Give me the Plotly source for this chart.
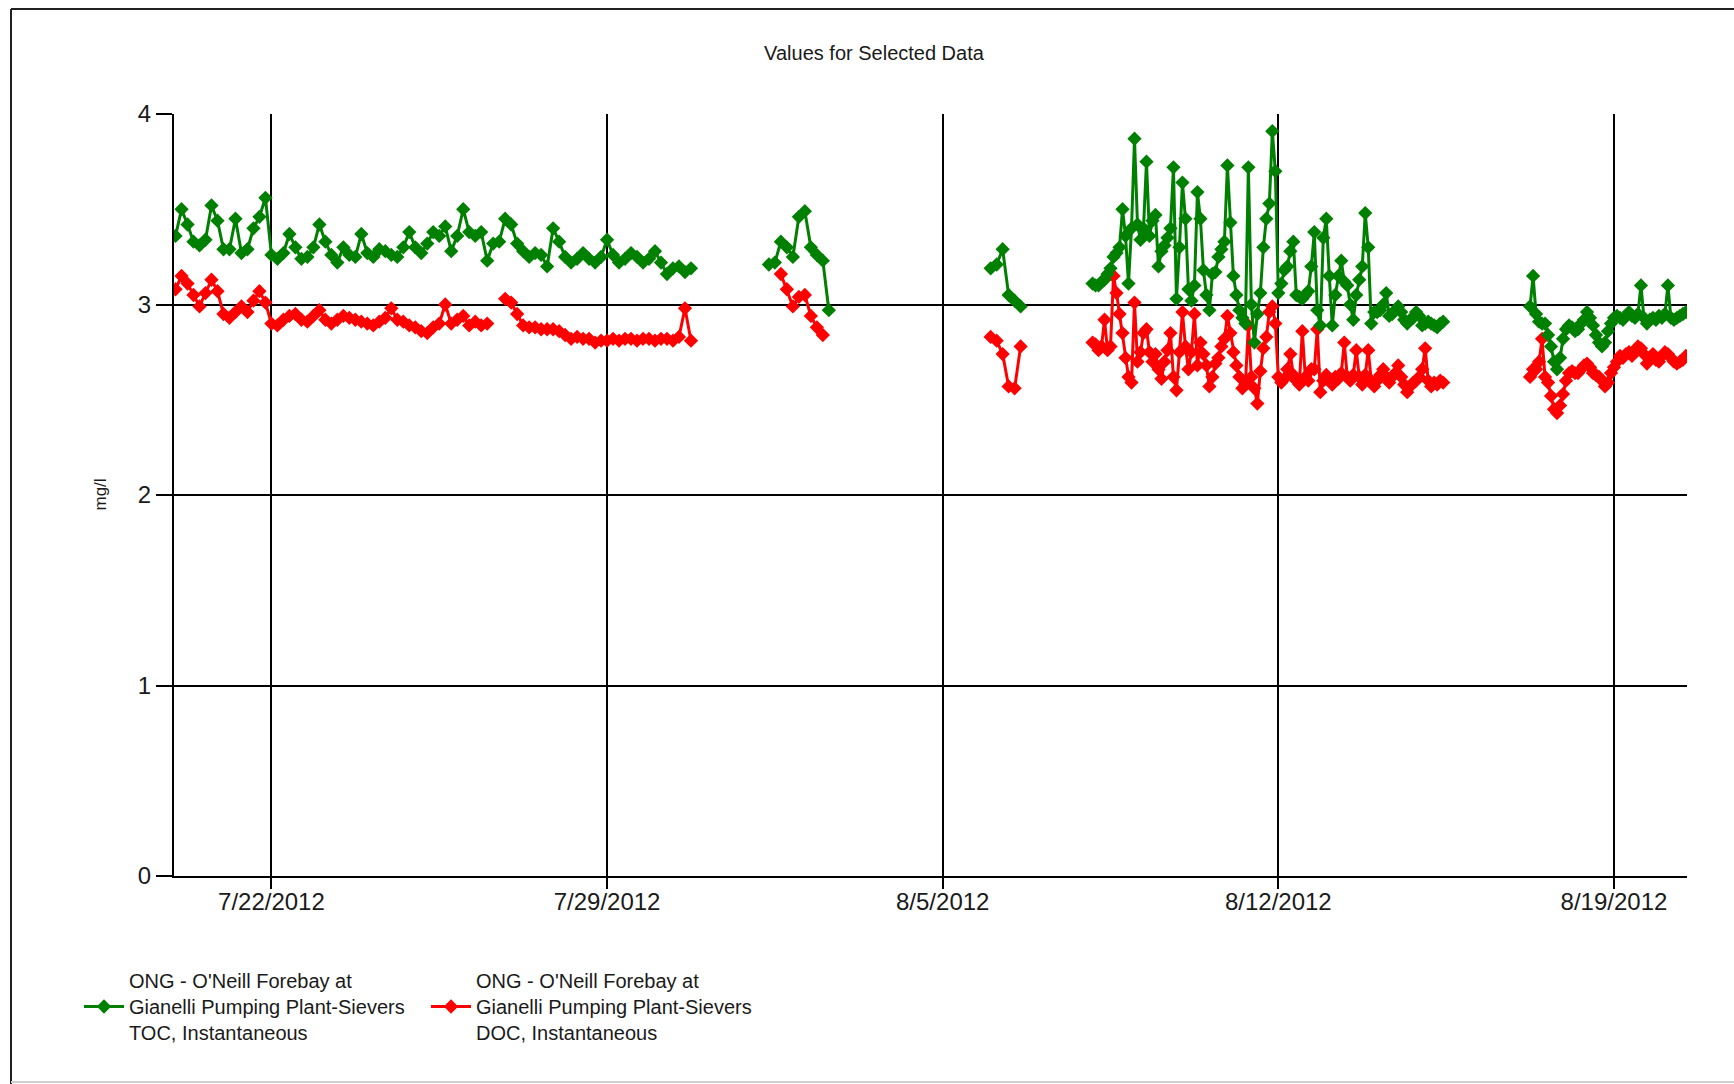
import pandas as pd
import plotly.graph_objects as go

# ---------------- data ----------------
SERIES_NAMES = [
    "ONG - O'Neill Forebay at<br>Gianelli Pumping Plant-Sievers<br>TOC, Instantaneous",
    "ONG - O'Neill Forebay at<br>Gianelli Pumping Plant-Sievers<br>DOC, Instantaneous",
]

# TOC (green) segments: start time, step (hours), values (mg/l)
toc_1_start, toc_1_step = "2012-07-20 00:00", 3
toc_1 = [3.36, 3.50, 3.42, 3.33, 3.31, 3.34, 3.52, 3.44,
         3.29, 3.29, 3.45, 3.27, 3.29, 3.40, 3.46, 3.56,
         3.26, 3.24, 3.27, 3.37, 3.30, 3.24, 3.25, 3.30,
         3.42, 3.33, 3.26, 3.22, 3.30, 3.26, 3.25, 3.37,
         3.27, 3.25, 3.29, 3.28, 3.26, 3.25, 3.30, 3.38,
         3.30, 3.27, 3.32, 3.38, 3.36, 3.41, 3.28, 3.36,
         3.50, 3.38, 3.36, 3.38, 3.23, 3.32, 3.33, 3.45,
         3.42, 3.32, 3.28, 3.25, 3.27, 3.26, 3.20, 3.40,
         3.33, 3.25, 3.22, 3.24, 3.27, 3.24, 3.22, 3.25,
         3.34, 3.26, 3.22, 3.24, 3.27, 3.25, 3.22, 3.24,
         3.28, 3.22, 3.16, 3.19, 3.20, 3.17, 3.19]
toc_2_start, toc_2_step = "2012-08-01 09:00", 3
toc_2 = [3.21, 3.22, 3.33, 3.30, 3.25, 3.46, 3.49, 3.30, 3.26, 3.23, 2.97]
toc_3_start, toc_3_step = "2012-08-06 00:00", 3
toc_3 = [3.19, 3.21, 3.29, 3.05, 3.02, 2.99]
toc_4_start, toc_4_step = "2012-08-08 03:00", 1.5
toc_4 = [3.11, 3.10, 3.10, 3.12, 3.13, 3.16, 3.19, 3.25, 3.27, 3.30,
         3.50, 3.36, 3.11, 3.40, 3.87, 3.42, 3.34, 3.40, 3.75, 3.36,
         3.44, 3.47, 3.20, 3.28, 3.31, 3.35, 3.40, 3.72, 3.03, 3.30,
         3.64, 3.45, 3.08, 3.02, 3.10, 3.59, 3.45, 3.18, 3.05, 2.97,
         3.16, 3.17, 3.25, 3.29, 3.33, 3.73, 3.43, 3.15, 3.05, 2.97,
         2.93, 2.90, 3.72, 3.00, 2.80, 2.95, 3.06, 3.30, 3.45, 3.53,
         3.91, 3.70, 3.06, 3.11, 3.18, 3.20, 3.28, 3.33, 3.05, 3.04,
         3.03, 3.05, 3.07, 3.20, 3.38, 2.97, 2.89, 3.35, 3.45, 3.15,
         2.89, 3.05, 3.15, 3.23, 3.12, 3.10, 3.00, 2.92, 3.05, 3.13,
         3.20, 3.48, 3.30, 2.90, 2.96, 2.96, 2.97, 3.00, 3.06, 2.94,
         2.95, 2.97, 2.99, 2.96, 2.92, 2.90, 2.92, 2.93, 2.96, 2.94,
         2.89, 2.90, 2.91, 2.90, 2.89, 2.88, 2.90, 2.91]
toc_5_start, toc_5_step = "2012-08-17 06:00", 1.5
toc_5 = [2.99, 3.15, 2.95, 2.91, 2.90, 2.90, 2.84, 2.78, 2.70, 2.66,
         2.72, 2.82, 2.87, 2.89, 2.88, 2.86, 2.87, 2.90, 2.92, 2.96,
         2.93, 2.89, 2.84, 2.80, 2.78, 2.80, 2.86, 2.90, 2.93, 2.94,
         2.93, 2.92, 2.94, 2.96, 2.94, 2.93, 2.95, 3.10, 2.93, 2.90,
         2.92, 2.93, 2.92, 2.94, 2.93, 2.95, 3.10, 2.93, 2.92, 2.93,
         2.94, 2.95, 2.96]

# DOC (red) segments
doc_1a_start, doc_1a_step = "2012-07-20 00:00", 3
doc_1a = [3.08, 3.15, 3.11, 3.05, 2.99, 3.06, 3.13, 3.07,
          2.95, 2.93, 2.96, 2.99, 2.96, 3.02, 3.07, 3.01,
          2.90, 2.89, 2.92, 2.94, 2.95, 2.92, 2.91, 2.94,
          2.97, 2.92, 2.90, 2.92, 2.94, 2.93, 2.92, 2.91,
          2.90, 2.89, 2.91, 2.93, 2.98, 2.92, 2.91, 2.89,
          2.88, 2.86, 2.85, 2.88, 2.90, 3.00, 2.90, 2.92,
          2.94, 2.89, 2.91, 2.89, 2.90]
doc_1b_start, doc_1b_step = "2012-07-26 21:00", 3
doc_1b = [3.03, 3.01, 2.95, 2.89, 2.88, 2.88, 2.87, 2.87, 2.87,
          2.86, 2.84, 2.82, 2.83, 2.82, 2.82, 2.80, 2.81,
          2.81, 2.82, 2.81, 2.82, 2.82, 2.81, 2.82, 2.82,
          2.81, 2.82, 2.82, 2.81, 2.83, 2.98, 2.81]
doc_2_start, doc_2_step = "2012-08-01 15:00", 3
doc_2 = [3.16, 3.08, 2.99, 3.04, 3.05, 2.94, 2.88, 2.84]
doc_3_start, doc_3_step = "2012-08-06 00:00", 3
doc_3 = [2.83, 2.81, 2.74, 2.57, 2.56, 2.78]
doc_4_start, doc_4_step = "2012-08-08 03:00", 1.5
doc_4 = [2.80, 2.79, 2.76, 2.78, 2.92, 2.76, 2.78, 3.15, 3.06, 2.95,
         2.85, 2.72, 2.62, 2.59, 3.01, 2.70, 2.75, 2.85, 2.87, 2.75,
         2.70, 2.74, 2.66, 2.61, 2.70, 2.76, 2.85, 2.62, 2.55, 2.75,
         2.96, 2.78, 2.66, 2.75, 2.95, 2.68, 2.80, 2.74, 2.68, 2.57,
         2.62, 2.69, 2.72, 2.78, 2.82, 2.94, 2.85, 2.75, 2.68, 2.62,
         2.56, 2.58, 2.89, 2.62, 2.56, 2.48, 2.65, 2.77, 2.83, 2.96,
         2.99, 2.90, 2.62, 2.59, 2.61, 2.66, 2.74, 2.63, 2.60, 2.58,
         2.86, 2.62, 2.60, 2.66, 2.66, 2.87, 2.54, 2.60, 2.63, 2.60,
         2.58, 2.62, 2.61, 2.64, 2.80, 2.62, 2.60, 2.63, 2.76, 2.62,
         2.58, 2.63, 2.76, 2.60, 2.57, 2.60, 2.63, 2.66, 2.62, 2.59,
         2.62, 2.64, 2.68, 2.62, 2.58, 2.54, 2.57, 2.59, 2.60, 2.62,
         2.66, 2.77, 2.60, 2.57, 2.59, 2.58, 2.60, 2.59]
doc_5_start, doc_5_step = "2012-08-17 06:00", 1.5
doc_5 = [2.62, 2.66, 2.66, 2.70, 2.82, 2.62, 2.59, 2.52, 2.45, 2.43,
         2.47, 2.53, 2.60, 2.64, 2.65, 2.64, 2.64, 2.66, 2.68, 2.69,
         2.67, 2.64, 2.63, 2.62, 2.60, 2.57, 2.59, 2.64, 2.67, 2.70,
         2.73, 2.72, 2.74, 2.75, 2.73, 2.76, 2.78, 2.77, 2.74, 2.69,
         2.72, 2.74, 2.71, 2.70, 2.73, 2.75, 2.74, 2.72, 2.70, 2.69,
         2.70, 2.71, 2.73]

# axis definitions
x_range = ["2012-07-19 23:14", "2012-08-20 12:33"]
x_tickvals = ["2012-07-22", "2012-07-29", "2012-08-05", "2012-08-12", "2012-08-19"]
x_ticktext = ["7/22/2012", "7/29/2012", "8/5/2012", "8/12/2012", "8/19/2012"]
y_tickvals = [0, 1, 2, 3, 4]
y_ticktext = ["0", "1", "2", "3", "4"]

toc_segments = [(toc_1_start, toc_1_step, toc_1), (toc_2_start, toc_2_step, toc_2),
                (toc_3_start, toc_3_step, toc_3), (toc_4_start, toc_4_step, toc_4),
                (toc_5_start, toc_5_step, toc_5)]
doc_segments = [(doc_1a_start, doc_1a_step, doc_1a), (doc_1b_start, doc_1b_step, doc_1b),
                (doc_2_start, doc_2_step, doc_2), (doc_3_start, doc_3_step, doc_3),
                (doc_4_start, doc_4_step, doc_4), (doc_5_start, doc_5_step, doc_5)]


def build(segments):
    xs, ys = [], []
    for start, step_h, vals in segments:
        t0 = pd.Timestamp(start)
        for i, v in enumerate(vals):
            xs.append(t0 + pd.Timedelta(hours=step_h * i))
            ys.append(v)
        xs.append(xs[-1] + pd.Timedelta(minutes=1))
        ys.append(None)  # gap between segments
    return xs, ys


# ---------------- figure ----------------
W, H = 1734, 1084
ML, MR, MT, MB = 174, 47, 114, 208
PW, PH = W - ML - MR, H - MT - MB


def px_x(p):
    return (p - ML) / PW


def px_y(p):
    return 1 - (p - MT) / PH


fig = go.Figure()
dx, dy = build(doc_segments)
tx, ty = build(toc_segments)
fig.add_trace(go.Scatter(x=dx, y=dy, mode="lines+markers", name=SERIES_NAMES[1],
                         connectgaps=False,
                         line=dict(color="#FF0000", width=3),
                         marker=dict(symbol="diamond", size=11, color="#FF0000")))
fig.add_trace(go.Scatter(x=tx, y=ty, mode="lines+markers", name=SERIES_NAMES[0],
                         connectgaps=False,
                         line=dict(color="#008000", width=3),
                         marker=dict(symbol="diamond", size=11, color="#008000")))

fig.update_layout(
    width=W, height=H,
    margin=dict(l=ML, r=MR, t=MT, b=MB, pad=0),
    paper_bgcolor="white", plot_bgcolor="white",
    font=dict(family="Liberation Sans, Arial, sans-serif", color="#1a1a1a"),
    title=dict(text="Values for Selected Data", x=874 / W, y=1 - 53 / H,
               xref="container", yref="container", xanchor="center", yanchor="middle",
               font=dict(size=20, color="#1a1a1a")),
    showlegend=True,
    legend=dict(orientation="h", x=px_x(79), y=px_y(961), xanchor="left", yanchor="top",
                font=dict(size=20, color="#1a1a1a"), traceorder="reversed",
                itemwidth=40, entrywidth=292, entrywidthmode="pixels",
                bgcolor="rgba(0,0,0,0)", itemclick=False),
)
fig.update_xaxes(type="date", range=x_range, tickvals=x_tickvals, ticktext=x_ticktext,
                 showgrid=True, gridcolor="#000000", gridwidth=2,
                 showline=True, linecolor="#000000", linewidth=2,
                 ticks="outside", ticklen=11, tickwidth=2, tickcolor="#000000",
                 ticklabelstandoff=-8,
                 tickfont=dict(size=24, color="#1a1a1a"), zeroline=False)
fig.update_yaxes(range=[0, 4], tickvals=y_tickvals, ticktext=y_ticktext,
                 showgrid=True, gridcolor="#000000", gridwidth=2,
                 showline=True, linecolor="#000000", linewidth=2,
                 ticks="outside", ticklen=16, tickwidth=2, tickcolor="#000000",
                 tickfont=dict(size=24, color="#1a1a1a"), zeroline=False)

fig.add_annotation(text="mg/l", xref="paper", yref="paper", x=px_x(99.5), y=0.5,
                   textangle=-90, showarrow=False, xanchor="center", yanchor="middle",
                   font=dict(size=17, color="#1a1a1a"))

# outer frame of the original screenshot
fig.add_shape(type="line", xref="paper", yref="paper", x0=px_x(11), x1=px_x(W), y0=px_y(9), y1=px_y(9),
              line=dict(color="#202020", width=2))
fig.add_shape(type="line", xref="paper", yref="paper", x0=px_x(11), x1=px_x(11), y0=px_y(9), y1=px_y(H),
              line=dict(color="#202020", width=2))
fig.add_shape(type="line", xref="paper", yref="paper", x0=px_x(11), x1=px_x(W), y0=px_y(1082), y1=px_y(1082),
              line=dict(color="#d0d0d0", width=2))

fig.write_html("out.html", config={"displayModeBar": False},
               post_script="document.body.style.margin='0';document.body.style.overflow='hidden';")
